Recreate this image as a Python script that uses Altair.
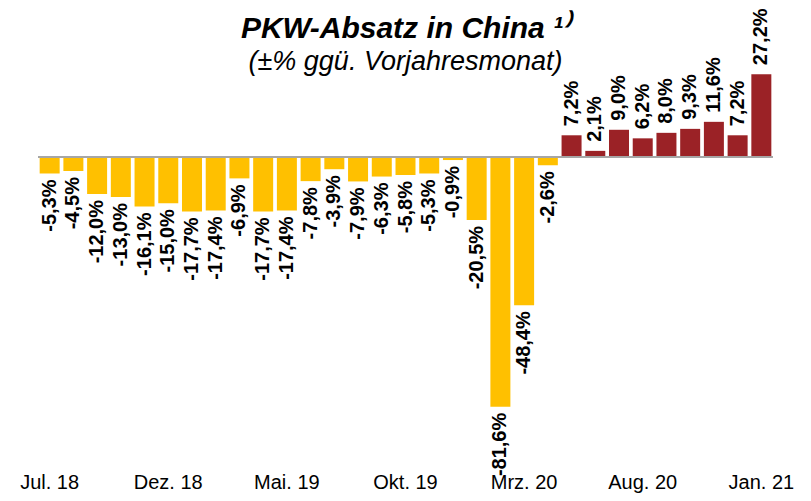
import altair as alt
import pandas as pd

months = [
    "Jul. 18", "Aug. 18", "Sep. 18", "Okt. 18", "Nov. 18", "Dez. 18",
    "Jan. 19", "Feb. 19", "Mrz. 19", "Apr. 19", "Mai. 19", "Jun. 19",
    "Jul. 19", "Aug. 19", "Sep. 19", "Okt. 19", "Nov. 19", "Dez. 19",
    "Jan. 20", "Feb. 20", "Mrz. 20", "Apr. 20", "Mai. 20", "Jun. 20",
    "Jul. 20", "Aug. 20", "Sep. 20", "Okt. 20", "Nov. 20", "Dez. 20",
    "Jan. 21",
]
values = [
    -5.3, -4.5, -12.0, -13.0, -16.1, -15.0,
    -17.7, -17.4, -6.9, -17.7, -17.4, -7.8,
    -3.9, -7.9, -6.3, -5.8, -5.3, -0.9,
    -20.5, -81.6, -48.4, -2.6, 7.2, 2.1,
    9.0, 6.2, 8.0, 9.3, 11.6, 7.2,
    27.2,
]
tick_labels = months[::5]

title_text = "PKW-Absatz in China ¹⁾"
subtitle_text = "(±% ggü. Vorjahresmonat)"

NEG_COLOR = "#FFC000"
POS_COLOR = "#9B2226"

df = pd.DataFrame({
    "month": months,
    "value": values,
    "label": [f"{v:.1f}".replace(".", ",") + "%" for v in values],
    "sign": ["neg" if v < 0 else "pos" for v in values],
})

FONT = "Liberation Sans"

x = alt.X(
    "month:N",
    scale=alt.Scale(domain=months, paddingInner=0.157, paddingOuter=0.07),
    axis=alt.Axis(
        values=tick_labels, labelAngle=0, title=None, ticks=False,
        domain=False, grid=False, labelFontSize=20, labelFont=FONT,
        labelColor="black", labelPadding=2,
    ),
)
yscale = alt.Scale(domain=[-102.3, 48.84], nice=False)
y = alt.Y("value:Q", scale=yscale, axis=None)

base = alt.Chart(df)

bars = base.mark_bar().encode(
    x=x,
    y=y,
    color=alt.Color("sign:N", scale=alt.Scale(domain=["neg", "pos"], range=[NEG_COLOR, POS_COLOR]), legend=None),
)

neg_text = base.transform_filter("datum.value < 0").mark_text(
    angle=270, align="right", baseline="middle", dx=-6,
    font=FONT, fontSize=20, fontWeight="bold", color="black",
).encode(x=x, y=y, text="label:N")

pos_text = base.transform_filter("datum.value >= 0").mark_text(
    angle=270, align="left", baseline="middle", dx=9,
    font=FONT, fontSize=20, fontWeight="bold", color="black",
).encode(x=x, y=y, text="label:N")

rule = base.transform_calculate(zero="0").mark_rule(color="#A6A6A6", strokeWidth=1.5).encode(
    y=alt.Y("zero:Q", scale=yscale, axis=None)
)

chart = alt.layer(bars, rule, neg_text, pos_text).properties(
    width=735,
    height=462,
    autosize=alt.AutoSizeParams(type="none"),
    padding={"left": 30, "right": 30, "top": 0, "bottom": 23},
    title=alt.TitleParams(
        text=title_text,
        subtitle=subtitle_text,
        font=FONT, fontSize=30, fontStyle="italic", fontWeight="bold", color="black",
        subtitleFont=FONT, subtitleFontSize=27, subtitleFontStyle="italic", subtitleColor="black",
        anchor="middle", offset=-67, subtitlePadding=5,
    ),
).configure_view(stroke=None)

chart.save("out.html", embed_options={"renderer": "svg", "actions": False})
